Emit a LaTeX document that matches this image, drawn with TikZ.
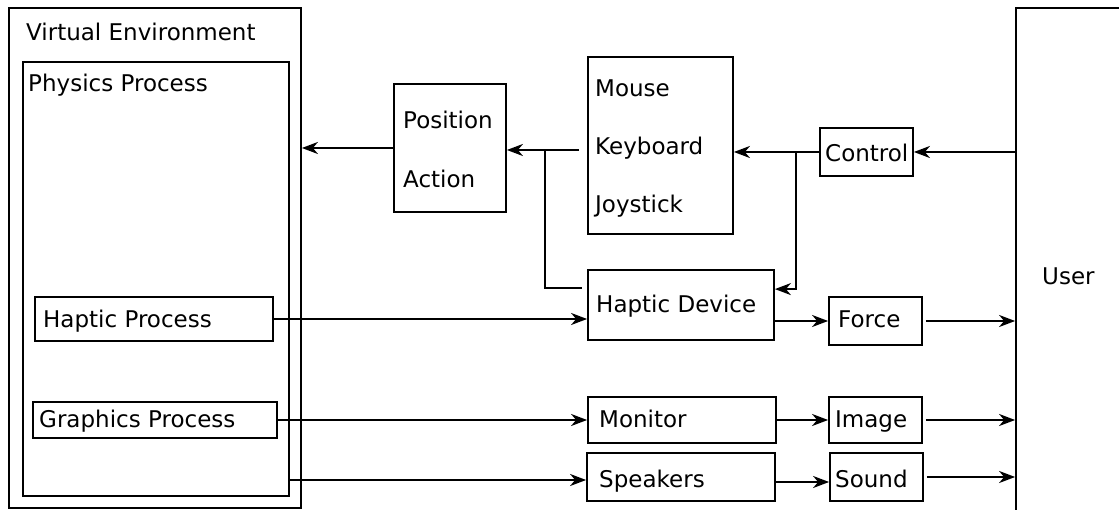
\documentclass[tikz,border=0pt]{standalone}
\usepackage{fontspec}
\setmainfont{DejaVu Sans}
\usetikzlibrary{arrows.meta,fit}
\tikzset{
  box/.style={draw, line width=1.8pt, inner sep=0pt},
  lbl/.style={anchor=base west, inner sep=0pt, font=\fontsize{23}{27}\selectfont},
  arr/.style={line width=2pt, -{Stealth[length=16pt,width=12pt,inset=5pt]}},
  ln/.style={line width=2pt}
}
\begin{document}
\begin{tikzpicture}[x=1pt,y=-1pt]
\useasboundingbox (0,0) rectangle (1119,510);
\clip (0,0) rectangle (1119,510);
% boxes
\node[box, fit={(9,8)(301,508)}] (ve) {};
\node[box, fit={(23,62)(289,496)}] (phys) {};
\node[box, fit={(35,297)(273,341)}] (hproc) {};
\node[box, fit={(33,402)(277,438)}] (gproc) {};
\node[box, fit={(394,84)(506,212)}] (posact) {};
\node[box, fit={(588,57)(733,234)}] (mkj) {};
\node[box, fit={(820,128)(913,176)}] (ctrl) {};
\node[box, fit={(1016,8)(1160,560)}] (user) {};
\node[box, fit={(588,270)(774,340)}] (hdev) {};
\node[box, fit={(829,297)(922,345)}] (force) {};
\node[box, fit={(588,397)(776,443)}] (mon) {};
\node[box, fit={(829,397)(922,443)}] (img) {};
\node[box, fit={(587,453)(775,501)}] (spk) {};
\node[box, fit={(830,453)(923,501)}] (snd) {};
% labels
\node[lbl] (tve) at (26,41) {Virtual Environment};
\node[lbl] (tphys) at (28,92) {Physics Process};
\node[lbl] (tpos) at (403,129) {Position};
\node[lbl] (tact) at (403,188) {Action};
\node[lbl] (tmouse) at (595,97) {Mouse};
\node[lbl] (tkb) at (595,155) {Keyboard};
\node[lbl] (tjoy) at (595,213) {Joystick};
\node[lbl] (tctrl) at (825,162) {Control};
\node[lbl] (tuser) at (1042,285) {User};
\node[lbl] (thp) at (43,328) {Haptic Process};
\node[lbl] (tgp) at (39,428) {Graphics Process};
\node[lbl] (thd) at (596,313) {Haptic Device};
\node[lbl] (tforce) at (838,328) {Force};
\node[lbl] (tmon) at (599,428) {Monitor};
\node[lbl] (timg) at (835,428) {Image};
\node[lbl] (tspk) at (599,487) {Speakers};
\node[lbl] (tsnd) at (835,487) {Sound};
% connectors
\draw[arr] (posact.west) -- (posact.west -| ve.east);
\coordinate (kbout) at ([shift={(-8,4.5)}]mkj.west);
\draw[arr] (kbout) -- (kbout -| posact.east);
\coordinate (j1) at ([shift={(-34,0)}]kbout);
\coordinate (hdin) at ([shift={(-5,19)}]hdev.north west);
\draw[ln] (j1) -- (j1 |- hdin) -- (hdin);
\draw[arr] (ctrl.east -| user.west) -- (ctrl.east);
\draw[arr] (ctrl.west) -- (ctrl.west -| mkj.east);
\coordinate (j2) at ([shift={(-23,0)}]ctrl.west);
\coordinate (hdr) at ([shift={(0,20)}]hdev.north east);
\draw[arr] (j2) -- (j2 |- hdr) -- (hdr);
\draw[arr] (hproc.east) -- (hproc.east -| hdev.west);
\draw[arr] (force.west -| hdev.east) -- (force.west);
\draw[arr] ([shift={(3,0)}]force.east) -- (force.east -| user.west);
\draw[arr] (gproc.east) -- (gproc.east -| mon.west);
\draw[arr] (img.west -| mon.east) -- (img.west);
\draw[arr] ([shift={(3,0)}]img.east) -- (img.east -| user.west);
\coordinate (spkin) at ([shift={(0,3)}]spk.west);
\draw[arr] (spkin -| phys.east) -- (spkin);
\coordinate (sndin) at ([shift={(0,5)}]snd.west);
\draw[arr] (sndin -| spk.east) -- (sndin);
\draw[arr] ([shift={(3,0)}]snd.east) -- (snd.east -| user.west);
\end{tikzpicture}
\end{document}
